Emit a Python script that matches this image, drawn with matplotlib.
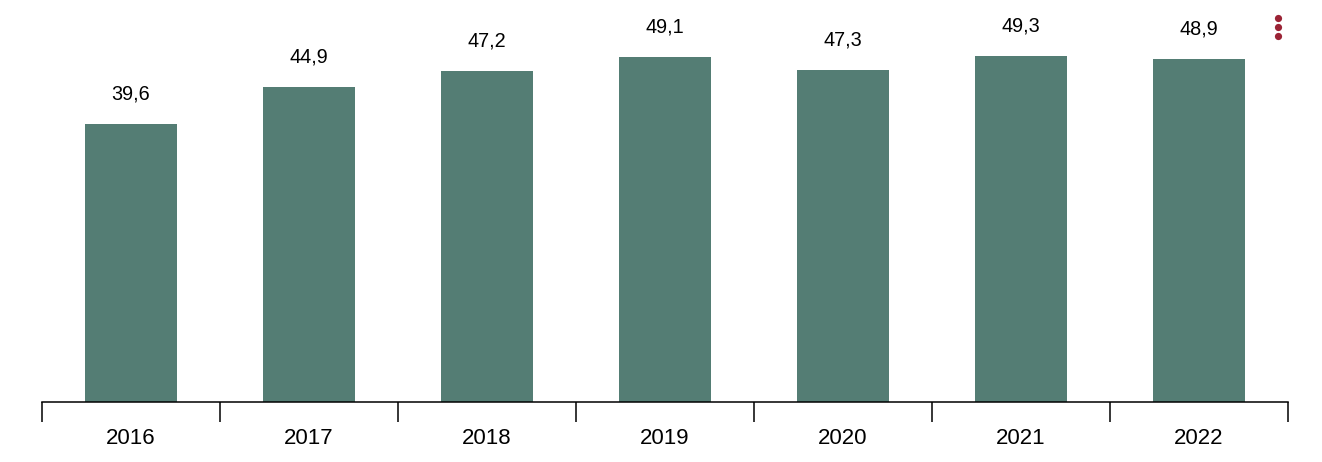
import matplotlib
matplotlib.use('Agg')
import matplotlib.pyplot as plt
from matplotlib.lines import Line2D

plt.rcParams['font.family'] = ['Liberation Sans', 'DejaVu Sans']

years = ['2016', '2017', '2018', '2019', '2020', '2021', '2022']
values = [39.6, 44.9, 47.2, 49.1, 47.3, 49.3, 48.9]

bar_color = '#547d74'
dot_color = '#9b2335'

fig = plt.figure(figsize=(13.22, 4.62), dpi=100)
ax = fig.add_axes([42 / 1322, 60 / 462, 1246 / 1322, 402 / 462])

x = list(range(len(years)))
ax.bar(x, values, width=0.52, color=bar_color)

# value labels with comma decimal
for xi, v in zip(x, values):
    ax.annotate(f"{v:.1f}".replace('.', ','), (xi, v), xytext=(0, 21.5),
                textcoords='offset points', ha='center', va='center', fontsize=14.3)

ax.set_xlim(-0.5, len(years) - 0.5)
ax.set_ylim(0, 57.26)

# ticks between categories, labels centered under bars
ax.set_xticks([i - 0.5 for i in range(len(years) + 1)])
ax.set_xticklabels([])
ax.set_xticks(x, minor=True)
ax.set_xticklabels(years, minor=True, fontsize=16)
ax.tick_params(axis='x', which='major', length=14.4, width=1.1, color='black', direction='out')
ax.tick_params(axis='x', which='minor', length=0, pad=19)
ax.set_yticks([])

for side in ['top', 'right', 'left']:
    ax.spines[side].set_visible(False)
ax.spines['bottom'].set_linewidth(1.1)

# menu dots in the top right corner
for yy in [18, 27, 36]:
    fig.add_artist(Line2D([1278 / 1322], [1 - yy / 462], marker='o', markersize=5.2,
                          markeredgewidth=0, color=dot_color, transform=fig.transFigure))

plt.savefig('out.png', dpi=100)
